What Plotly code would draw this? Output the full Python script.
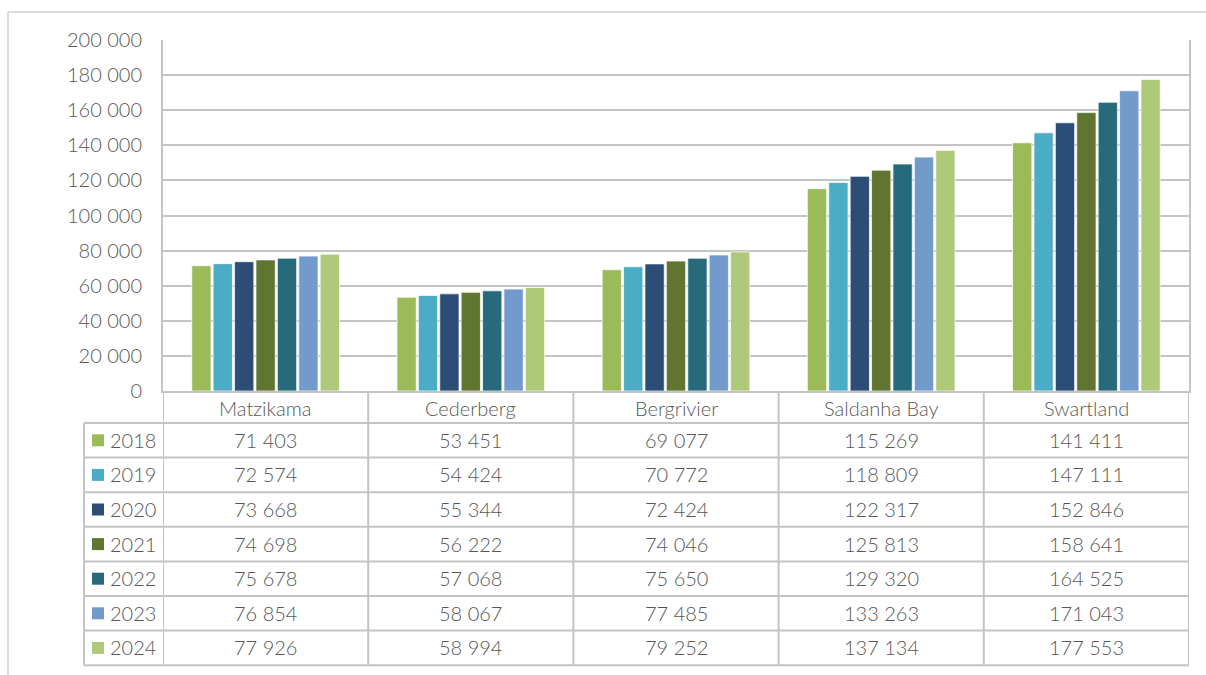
import plotly.graph_objects as go

# Population by municipality, 2018-2024
municipalities = ["Matzikama", "Cederberg", "Bergrivier", "Saldanha Bay", "Swartland"]
years = ["2018", "2019", "2020", "2021", "2022", "2023", "2024"]
pop_2018 = [71403, 53451, 69077, 115269, 141411]
pop_2019 = [72574, 54424, 70772, 118809, 147111]
pop_2020 = [73668, 55344, 72424, 122317, 152846]
pop_2021 = [74698, 56222, 74046, 125813, 158641]
pop_2022 = [75678, 57068, 75650, 129320, 164525]
pop_2023 = [76854, 58067, 77485, 133263, 171043]
pop_2024 = [77926, 58994, 79252, 137134, 177553]
series = [pop_2018, pop_2019, pop_2020, pop_2021, pop_2022, pop_2023, pop_2024]
colors = ["#9BBB59", "#4BACC6", "#2C4D75", "#5F7530", "#276A7C", "#729ACA", "#AFC97A"]
y_ticks = list(range(0, 200001, 20000))

W, H = 1206, 675
L, R, T, B = 163, 1189, 40, 391          # plot area in pixels
FONT = dict(family="Lato", size=20, color="#575757", weight=300)
LINE = "#c4c4c4"


def xp(px):
    return (px - L) / (R - L)


def yp(py):
    return (B - py) / (B - T)


def fmt(v):
    return f"{v:,}".replace(",", " ")


fig = go.Figure()
for yr, vals, col in zip(years, series, colors):
    fig.add_trace(go.Bar(
        x=municipalities, y=vals, name=yr,
        marker=dict(color=col, line=dict(color="rgba(255,255,255,0.7)", width=1)),
        hoverinfo="x+y+name",
    ))

shapes = []
annotations = []

# outer frame
shapes.append(dict(type="line", xref="paper", yref="paper", x0=xp(8), x1=xp(W), y0=yp(12), y1=yp(12),
                   line=dict(color="#d0d0d0", width=1.5)))
shapes.append(dict(type="line", xref="paper", yref="paper", x0=xp(8), x1=xp(8), y0=yp(12), y1=yp(H),
                   line=dict(color="#d0d0d0", width=1.5)))

# data table grid
row_top = 423
row_h = 34.6
n_rows = len(years)
table_bottom = row_top + n_rows * row_h
for i in range(n_rows + 1):
    y = row_top + i * row_h
    shapes.append(dict(type="line", xref="paper", yref="paper", x0=xp(84), x1=1, y0=yp(y), y1=yp(y),
                       line=dict(color=LINE, width=2)))
shapes.append(dict(type="line", xref="paper", yref="paper", x0=xp(84), x1=xp(84),
                   y0=yp(row_top), y1=yp(table_bottom), line=dict(color=LINE, width=2)))
for k in range(len(municipalities) + 1):
    shapes.append(dict(type="line", xref="x", yref="paper", x0=k - 0.5, x1=k - 0.5,
                       y0=0, y1=yp(table_bottom), line=dict(color=LINE, width=2)))

# column headers
for k, name in enumerate(municipalities):
    annotations.append(dict(x=k, y=yp(407.5), xref="x", yref="paper", text=name, showarrow=False,
                            font=FONT, xanchor="center", yanchor="middle"))

# rows: legend key + values
for i, (yr, vals, col) in enumerate(zip(years, series, colors)):
    cy = row_top + (i + 0.5) * row_h
    shapes.append(dict(type="rect", xref="paper", yref="paper", x0=xp(92), x1=xp(104),
                       y0=yp(cy - 6), y1=yp(cy + 6), fillcolor=col, line=dict(width=0)))
    annotations.append(dict(x=xp(108), y=yp(cy - 0.5), xref="paper", yref="paper", text=yr, showarrow=False,
                            font=FONT, xanchor="left", yanchor="middle"))
    for k, v in enumerate(vals):
        annotations.append(dict(x=k, y=yp(cy - 0.5), xref="x", yref="paper", text=fmt(v), showarrow=False,
                                font=FONT, xanchor="center", yanchor="middle"))

fig.update_layout(
    width=W, height=H,
    margin=dict(l=L, r=W - R, t=T, b=H - B),
    paper_bgcolor="white", plot_bgcolor="white",
    barmode="group", bargap=0.27, bargroupgap=0.1,
    showlegend=False,
    separators=". ",
    shapes=shapes, annotations=annotations,
    xaxis=dict(range=[-0.5, len(municipalities) - 0.5], showticklabels=False, showgrid=False,
               showline=True, linecolor=LINE, linewidth=2, zeroline=False, fixedrange=True),
    yaxis=dict(range=[0, 200000], tickvals=y_ticks, tickformat=",d", showgrid=True, gridcolor=LINE,
               gridwidth=2, showline=True, linecolor=LINE, linewidth=2, mirror=True, zeroline=False,
               ticks="", ticklabelstandoff=15, tickfont=FONT, fixedrange=True),
)

fig.write_html("out.html")
